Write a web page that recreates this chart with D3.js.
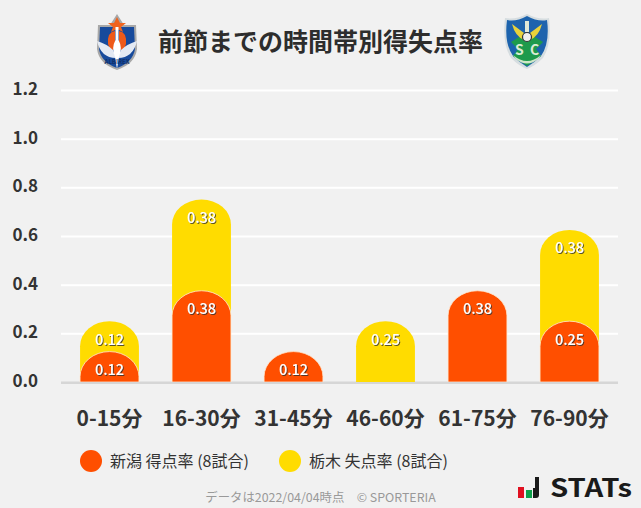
<!DOCTYPE html>
<html>
<head>
<meta charset="utf-8">
<script src="https://cdn.jsdelivr.net/npm/d3@7"></script>
<style>
html, body { margin: 0; padding: 0; background: #f1f1f1; }
svg { display: block; }
text { font-family: "Noto Sans CJK JP", "Noto Sans", sans-serif; }
</style>
</head>
<body>
<svg id="chart"></svg>
<script>
const categories = ['0-15分', '16-30分', '31-45分', '46-60分', '61-75分', '76-90分'];
const niigataValues = [0.125, 0.375, 0.125, 0, 0.375, 0.25];
const tochigiValues = [0.125, 0.375, 0, 0.25, 0, 0.375];
const niigataLabels = ['0.12', '0.38', '0.12', '', '0.38', '0.25'];
const tochigiLabels = ['0.12', '0.38', '', '0.25', '', '0.38'];
const yTicks = [0, 0.2, 0.4, 0.6, 0.8, 1.0, 1.2];
const titleText = '前節までの時間帯別得失点率';
const legendNames = ['新潟 得点率 (8試合)', '栃木 失点率 (8試合)'];
const footerText = 'データは2022/04/04時点　© SPORTERIA';

const chartWidth = 641;
const chartHeight = 508;
const orange = '#ff4f00';
const yellow = '#ffdc00';
const barRy = 25;

const chart = d3.select('#chart')
    .attr('width', chartWidth)
    .attr('height', chartHeight);

chart.append('rect')
    .attr('width', chartWidth)
    .attr('height', chartHeight)
    .attr('fill', '#f1f1f1');

const defs = chart.append('defs');
const shadow = defs.append('filter').attr('id', 'labelShadow')
    .attr('x', '-20%').attr('y', '-20%').attr('width', '140%').attr('height', '140%');
shadow.append('feDropShadow')
    .attr('dx', 1).attr('dy', 1).attr('stdDeviation', 0.4)
    .attr('flood-color', '#333').attr('flood-opacity', 0.8);

const xScale = d3.scaleBand()
    .domain(categories)
    .range([63.5, 615.5])
    .paddingInner(0.36)
    .paddingOuter(0.18);

const yScale = d3.scaleLinear()
    .domain([0, 1.2])
    .range([382, 90]);

// grid + y labels
const yAxis = d3.axisLeft(yScale)
    .tickValues(yTicks)
    .tickFormat(d3.format('.1f'))
    .tickSize(-557)
    .tickPadding(23);

const yG = chart.append('g')
    .attr('transform', 'translate(61, 0)')
    .call(yAxis);
yG.select('.domain').remove();
yG.selectAll('.tick line')
    .attr('stroke', d => d === 0 ? '#d6d6d6' : '#ffffff')
    .attr('stroke-width', 2);
yG.selectAll('.tick text')
    .attr('fill', '#333')
    .attr('font-size', 17)
    .attr('font-weight', 700)
    .attr('dy', '0.27em')
    .attr('font-family', '"Noto Sans CJK JP", sans-serif');

const xAxis = d3.axisBottom(xScale).tickSize(0).tickPadding(29);
const xG = chart.append('g')
    .attr('transform', 'translate(0, 382)')
    .call(xAxis);
xG.select('.domain').remove();
xG.selectAll('.tick text')
    .attr('fill', '#333')
    .attr('font-size', 21)
    .attr('font-weight', 700)
    .attr('font-family', '"Noto Sans CJK JP", sans-serif');

const barPath = (x, w, top, bottom) => {
    const rx = w / 2;
    const ry = Math.min(barRy, bottom - top);
    return `M${x},${bottom}V${top + ry}A${rx},${ry} 0 0 1 ${x + w},${top + ry}V${bottom}Z`;
};

const rows = categories.map((c, i) => ({
    category: c,
    niigata: niigataValues[i],
    tochigi: tochigiValues[i],
    niigataLabel: niigataLabels[i],
    tochigiLabel: tochigiLabels[i]
}));

// yellow stacked on orange
chart.append('g').selectAll('path')
    .data(rows.filter(d => d.tochigi > 0))
    .enter()
    .append('path')
    .attr('d', d => barPath(xScale(d.category), xScale.bandwidth(),
        yScale(d.niigata + d.tochigi), yScale(0)))
    .attr('fill', yellow);

chart.append('g').selectAll('path')
    .data(rows.filter(d => d.niigata > 0))
    .enter()
    .append('path')
    .attr('d', d => barPath(xScale(d.category), xScale.bandwidth(),
        yScale(d.niigata), yScale(0)))
    .attr('fill', orange)
    .attr('stroke', '#ffe9d0')
    .attr('stroke-width', 0.8);

// repaint the baseline over the bar stroke
chart.append('line')
    .attr('x1', 61).attr('x2', 618)
    .attr('y1', yScale(0) + 1).attr('y2', yScale(0) + 1)
    .attr('stroke', '#d6d6d6').attr('stroke-width', 2);

const barLabel = (sel) => sel
    .attr('text-anchor', 'middle')
    .attr('fill', '#fff')
    .attr('font-size', 14.5)
    .attr('font-weight', 500)
    .attr('filter', 'url(#labelShadow)');

chart.append('g').selectAll('text')
    .data(rows.filter(d => d.tochigiLabel))
    .enter()
    .append('text')
    .text(d => d.tochigiLabel)
    .attr('x', d => xScale(d.category) + xScale.bandwidth() / 2)
    .attr('y', d => yScale(d.niigata + d.tochigi) + 23.5)
    .call(barLabel);

chart.append('g').selectAll('text')
    .data(rows.filter(d => d.niigataLabel))
    .enter()
    .append('text')
    .text(d => d.niigataLabel)
    .attr('x', d => xScale(d.category) + xScale.bandwidth() / 2)
    .attr('y', d => yScale(d.niigata) + 23.5)
    .call(barLabel);

// title
chart.append('text')
    .text(titleText)
    .attr('x', 320.5)
    .attr('y', 51)
    .attr('text-anchor', 'middle')
    .attr('fill', '#2d2d2d')
    .attr('font-size', 25)
    .attr('font-weight', 700);

// legend
const legendX = [91, 290];
const legend = chart.append('g').selectAll('g')
    .data(legendNames)
    .enter()
    .append('g')
    .attr('transform', (_, i) => `translate(${legendX[i]}, 461)`);
legend.append('circle')
    .attr('r', 11)
    .attr('fill', (_, i) => i ? yellow : orange);
legend.append('text')
    .text(d => d)
    .attr('x', 19)
    .attr('y', 6)
    .attr('fill', '#333')
    .attr('font-size', 16);

// footer
chart.append('text')
    .text(footerText)
    .attr('x', 320.5)
    .attr('y', 502)
    .attr('text-anchor', 'middle')
    .attr('fill', '#999')
    .attr('font-size', 12.4);

// STATs logo
const stats = chart.append('g').attr('transform', 'translate(518, 477)');
stats.append('rect').attr('x', 0).attr('y', 10).attr('width', 6).attr('height', 11).attr('fill', '#e01020');
stats.append('rect').attr('x', 8).attr('y', 13).attr('width', 6).attr('height', 8).attr('fill', '#0ea04a');
stats.append('path').attr('d', 'M15,21V11H17V0H21V18Q21,21 18,21Z').attr('fill', '#1a1a1a');
stats.append('text')
    .text('STATs')
    .attr('x', 32)
    .attr('y', 20)
    .attr('fill', '#1a1a1a')
    .attr('font-size', 25)
    .attr('font-weight', 700)
    .attr('font-family', '"DejaVu Sans", sans-serif')
    .attr('textLength', 82)
    .attr('lengthAdjust', 'spacingAndGlyphs');

// Niigata crest (rough)
const crestA = chart.append('g').attr('transform', 'translate(97, 14)');
crestA.append('path').attr('d', 'M1,11 H13 L20,0 L27,11 H39 L40,35 Q38,50 20,56 Q2,50 0,35Z').attr('fill', '#a8a8a8');
crestA.append('path').attr('d', 'M3,13 H37 L38,35 Q36,48 20,54 Q4,48 2,35Z').attr('fill', '#174a9c');
crestA.append('path').attr('d', 'M20,3 L23,9 L29,9 L24,13 L26,18 L20,15 L14,18 L16,13 L11,9 L17,9Z').attr('fill', '#f0631e');
crestA.append('path').attr('d', 'M11,30 Q10,18 18,17 L18,34 L14,38Z M29,30 Q30,18 22,17 L22,34 L26,38Z').attr('fill', '#ee5a1a');
crestA.append('path').attr('d', 'M0,27 Q10,30 16,36 L19,44 Q4,44 0,27Z M40,27 Q30,30 24,36 L21,44 Q36,44 40,27Z').attr('fill', '#e3e9f3');
crestA.append('path').attr('d', 'M18.5,13 H21.5 V26 Q26,34 22,43 L20,55 L18,43 Q14,34 18.5,26Z').attr('fill', '#fff');
crestA.append('text').text('ALBIREX').attr('x', 20).attr('y', 50)
    .attr('text-anchor', 'middle').attr('fill', '#0f2f6a')
    .attr('font-size', 6).attr('font-weight', 700);

// Tochigi crest (rough)
const crestB = chart.append('g').attr('transform', 'translate(505, 14)');
crestB.append('path').attr('d', 'M22,0 Q34,6 44,4 Q47,30 38,44 Q30,52 22,55 Q14,52 6,44 Q-3,30 0,4 Q10,6 22,0Z').attr('fill', '#d6dde0');
crestB.append('path').attr('d', 'M22,2 Q33,8 42,6 Q45,29 36,42 Q29,49 22,53 Q15,49 8,42 Q-1,29 2,6 Q11,8 22,2Z').attr('fill', '#1d63ad');
crestB.append('path').attr('d', 'M22,18 L38,28 L31,35 L36,42 L22,52 L8,42 L13,35 L6,28Z').attr('fill', '#1e9a4c');
crestB.append('path').attr('d', 'M7,10 L19,19 L19,26 Q10,22 7,10Z M37,10 L25,19 L25,26 Q34,22 37,10Z').attr('fill', '#e8d23c');
crestB.append('rect').attr('x', 20).attr('y', 7).attr('width', 4).attr('height', 11).attr('fill', '#dfe8d8');
crestB.append('circle').attr('cx', 22).attr('cy', 23).attr('r', 4.5).attr('fill', '#eee').attr('stroke', '#333').attr('stroke-width', 1.2);
crestB.append('path').attr('d', 'M8,41 Q22,53 36,41 L33,45 Q22,54 11,45Z').attr('fill', '#cfe6c8');
crestB.append('text').text('S').attr('x', 10).attr('y', 41).attr('fill', '#dcebd4').attr('font-size', 14).attr('font-weight', 700);
crestB.append('text').text('C').attr('x', 25).attr('y', 41).attr('fill', '#dcebd4').attr('font-size', 14).attr('font-weight', 700);
</script>
</body>
</html>
